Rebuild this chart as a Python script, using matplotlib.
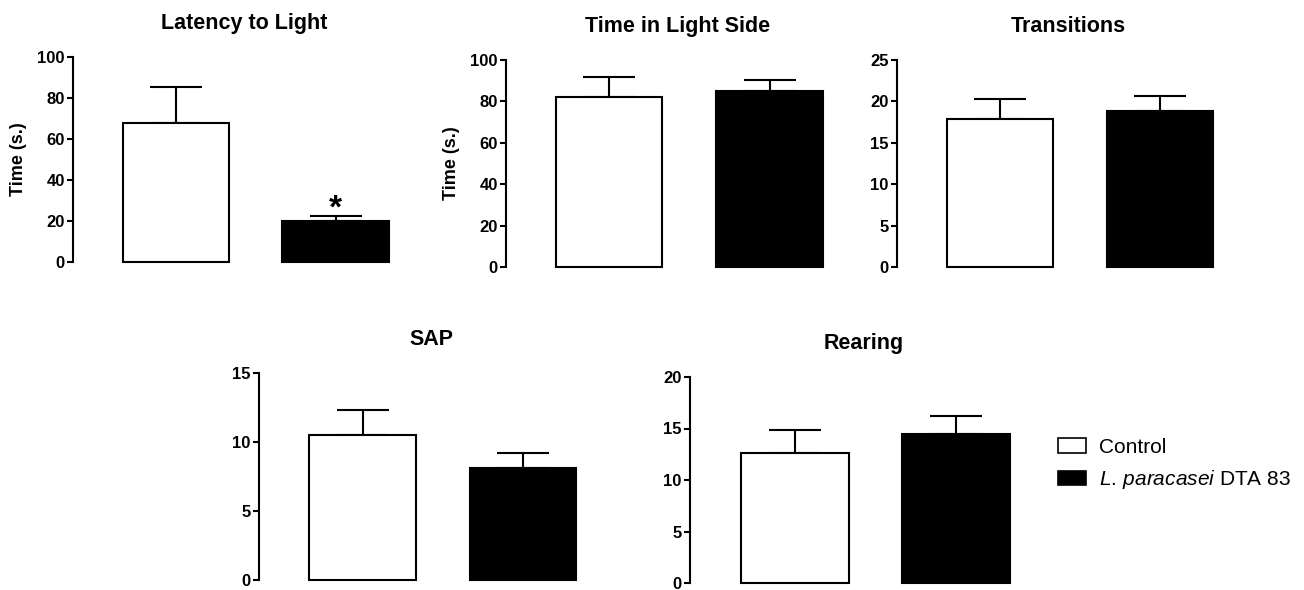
import matplotlib
matplotlib.use('Agg')
import matplotlib.pyplot as plt
from matplotlib.patches import Patch

plt.rcParams['font.family'] = ['Liberation Sans', 'DejaVu Sans']
plt.rcParams['mathtext.fontset'] = 'custom'
plt.rcParams['mathtext.rm'] = 'Liberation Sans'
plt.rcParams['mathtext.it'] = 'Liberation Sans:italic'

# data (mean, upper SEM)
groups = ['Control', r'$\it{L.}\,\it{paracasei}$ DTA 83']
titles = ['Latency to Light', 'Time in Light Side', 'Transitions', 'SAP', 'Rearing']
ylabels = ['Time (s.)', 'Time (s.)', '', '', '']
latency_mean = [68, 20]
latency_sem = [17.2, 2.6]
light_mean = [82.3, 84.9]
light_sem = [9.3, 5.4]
trans_mean = [17.9, 18.8]
trans_sem = [2.35, 1.85]
sap_mean = [10.5, 8.1]
sap_sem = [1.8, 1.1]
rear_mean = [12.65, 14.5]
rear_sem = [2.25, 1.75]
ymax = [100, 100, 25, 15, 20]
ystep = [20, 20, 5, 5, 5]

means = [latency_mean, light_mean, trans_mean, sap_mean, rear_mean]
sems = [latency_sem, light_sem, trans_sem, sap_sem, rear_sem]

W, H = 1304, 590
# layout in pixels: spine x, first bar centre, bar spacing, top, bottom
layout = [(73, 176, 159.5, 57, 262),
          (506, 609, 160.5, 60, 267),
          (897, 1000, 160, 60, 267),
          (259, 362.5, 160.5, 373, 580),
          (690, 795, 161, 377, 583)]

fig = plt.figure(figsize=(W / 100, H / 100), dpi=100)
axes = []
for i, (sx, c0, sp, top, bot) in enumerate(layout):
    xl = -(c0 - sx) / sp
    xr = 1.5
    ax = fig.add_axes([sx / W, 1 - bot / H, (xr - xl) * sp / W, (bot - top) / H])
    m = means[i]
    s = sems[i]
    ax.bar([0, 1], m, width=0.665, color=['white', 'black'], edgecolor='black',
           linewidth=1.5, clip_on=False, zorder=3)
    ax.errorbar([0, 1], m, yerr=[[0, 0], s], fmt='none', ecolor='black',
                elinewidth=1.5, capsize=19, capthick=1.5, zorder=2, clip_on=False)
    ax.set_xlim(xl, xr)
    ax.set_ylim(0, ymax[i])
    ax.set_yticks(range(0, ymax[i] + 1, ystep[i]))
    for side in ['top', 'right', 'bottom']:
        ax.spines[side].set_visible(False)
    ax.spines['left'].set_linewidth(1.5)
    ax.set_xticks([])
    ax.tick_params(axis='y', direction='out', length=4, width=1.5, pad=2, labelsize=12)
    for lab in ax.get_yticklabels():
        lab.set_fontweight('bold')
    ax.set_title(titles[i], fontsize=15.5, fontweight='bold', pad=20)
    if ylabels[i]:
        ax.set_ylabel(ylabels[i], fontsize=13, fontweight='bold', labelpad=7)
    axes.append(ax)

# significance mark
axes[0].text(1, 21.5, '*', ha='center', va='baseline', fontsize=24, fontweight='bold')

handles = [Patch(facecolor='white', edgecolor='black', linewidth=1.2),
           Patch(facecolor='black', edgecolor='black', linewidth=1.2)]
fig.legend(handles, groups, loc='center left', bbox_to_anchor=(1058 / W, 1 - 464.5 / H),
           frameon=False, fontsize=15, handlelength=1.35, handleheight=0.72,
           handletextpad=0.6, labelspacing=0.55, borderpad=0, borderaxespad=0)

fig.savefig('out.png', dpi=100)
